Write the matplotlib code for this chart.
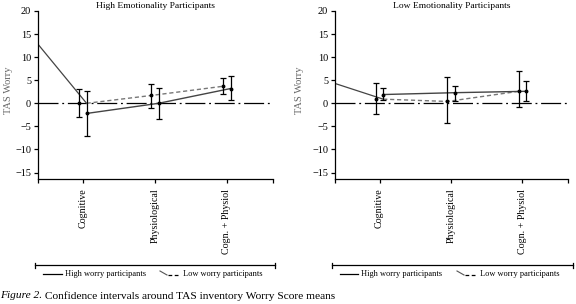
import matplotlib
matplotlib.use("Agg")
import matplotlib.pyplot as plt
from matplotlib.lines import Line2D

plt.rcParams['font.family'] = ['Liberation Serif', 'DejaVu Serif']
plt.rcParams['axes.unicode_minus'] = True

categories = ["Cognitive", "Physiological", "Cogn. + Physiol"]
y_ticks = [20, 15, 10, 5, 0, -5, -10, -15]
titles = ["High Emotionality Participants", "Low Emotionality Participants"]
legend_labels = ["High worry participants", "Low worry participants"]
caption_italic = "Figure 2."
caption_rest = " Confidence intervals around TAS inventory Worry Score means"

# High Emotionality panel
he_high_mean = [-2.2, 0.0, 3.2]
he_high_lo = [-7.0, -3.5, 0.7]
he_high_hi = [2.7, 3.4, 6.0]
he_low_mean = [0.0, 1.7, 3.7]
he_low_lo = [-3.0, -1.1, 2.0]
he_low_hi = [3.2, 4.2, 5.4]
he_lead = 12.8

# Low Emotionality panel
le_high_mean = [1.9, 2.3, 2.6]
le_high_lo = [0.7, 0.5, 0.5]
le_high_hi = [3.4, 3.8, 4.9]
le_low_mean = [0.9, 0.4, 2.6]
le_low_lo = [-2.4, -4.3, -0.8]
le_low_hi = [4.5, 5.6, 7.0]
le_lead = 4.3

W, H = 576, 304
fig = plt.figure(figsize=(W / 100, H / 100), dpi=100)

def fx(px):
    return px / W

def fy(py):
    return 1 - py / H

XMIN, XMAX = 0.375, 3.64
YMIN, YMAX = -16.4, 20
D = 0.05

def panel(left_px, right_px, title, hm, hl, hh, lm, ll, lh, lead, ylab_px):
    ax = fig.add_axes([fx(left_px), fy(179), fx(right_px - left_px), (179 - 11) / H])
    xs = [1, 2, 3]
    xh = [x + D for x in xs]
    xl = [x - D for x in xs]
    ax.set_xlim(XMIN, XMAX)
    ax.set_ylim(YMIN, YMAX)
    ax.axhline(0, color='black', lw=0.9, ls=(0, (16, 3, 1.5, 3)), zorder=1)
    # lead-in segment
    ax.plot([XMIN, xh[0]], [lead, lm[0]], color='#444444', lw=0.9, zorder=2)
    # low worry dashed
    ax.plot([xh[0], xl[1], xl[2]], lm, color='#777777', lw=1.0, ls=(0, (3, 2)), zorder=2)
    # high worry solid
    ax.plot(xh, hm, color='#444444', lw=1.0, zorder=2)
    ax.errorbar(xl, lm, yerr=[[m - l for m, l in zip(lm, ll)], [h - m for m, h in zip(lm, lh)]],
                fmt='o', ms=1.8, color='black', ecolor='black', elinewidth=0.9, capsize=2, capthick=0.9, zorder=3)
    ax.errorbar(xh, hm, yerr=[[m - l for m, l in zip(hm, hl)], [h - m for m, h in zip(hm, hh)]],
                fmt='o', ms=1.8, color='black', ecolor='black', elinewidth=0.9, capsize=2, capthick=0.9, zorder=3)
    ax.spines['top'].set_visible(False)
    ax.spines['right'].set_visible(False)
    ax.spines['left'].set_linewidth(0.9)
    ax.spines['bottom'].set_linewidth(0.9)
    ax.set_yticks(y_ticks)
    ax.set_yticklabels([str(v).replace('-', '\u2212') for v in y_ticks], fontsize=7.4)
    ax.set_xticks([XMIN] + xs + [XMAX])
    ax.set_xticklabels([''] + categories + [''], rotation=90, fontsize=7.2, va='top', ha='center')
    ax.tick_params(axis='both', direction='out', length=3, width=0.9, pad=2)
    ax.tick_params(axis='x', pad=4)
    ax.set_title(title, fontsize=6.8, pad=2)
    ax.set_ylabel("TAS Worry", fontsize=7.5, color='#666666', va='center')
    ax.yaxis.set_label_coords((ylab_px - left_px) / (right_px - left_px), 0.53)
    return ax

panel(38, 273, titles[0], he_high_mean, he_high_lo, he_high_hi,
      he_low_mean, he_low_lo, he_low_hi, he_lead, 8)
panel(335, 568, titles[1], le_high_mean, le_high_lo, le_high_hi,
      le_low_mean, le_low_lo, le_low_hi, le_lead, 300)

def legend_block(x0, x1, solid_x, solid_t, low_x, low_t):
    y = 265
    fig.add_artist(Line2D([fx(x0), fx(x1)], [fy(y), fy(y)], color='black', lw=0.9))
    for xx in (x0, x1):
        fig.add_artist(Line2D([fx(xx), fx(xx)], [fy(y - 2.5), fy(y + 2.5)], color='black', lw=0.9))
    ty = 274
    fig.add_artist(Line2D([fx(solid_x[0]), fx(solid_x[1])], [fy(ty), fy(ty)], color='black', lw=0.9))
    fig.text(fx(solid_t), fy(ty), legend_labels[0], fontsize=6.0, va='center', ha='left')
    fig.add_artist(Line2D([fx(low_x[0]), fx(low_x[0] + 7)], [fy(ty - 3), fy(ty + 1)], color='#555555', lw=0.8))
    fig.add_artist(Line2D([fx(low_x[0] + 8), fx(low_x[1])], [fy(ty + 1), fy(ty + 1)], color='black', lw=0.9,
                          ls=(0, (3, 2))))
    fig.text(fx(low_t), fy(ty), legend_labels[1], fontsize=6.0, va='center', ha='left')

legend_block(35, 275, (43, 62), 65, (160, 180), 183)
legend_block(332, 573, (340, 358), 361, (457, 477), 480)

t1 = fig.text(fx(0), fy(296), caption_italic, fontsize=8.2, style='italic', va='center', ha='left')
fig.canvas.draw()
bb = t1.get_window_extent()
fig.text(bb.x1 / W, fy(296), caption_rest, fontsize=8.2, va='center', ha='left')

fig.savefig("out.png", dpi=100)
